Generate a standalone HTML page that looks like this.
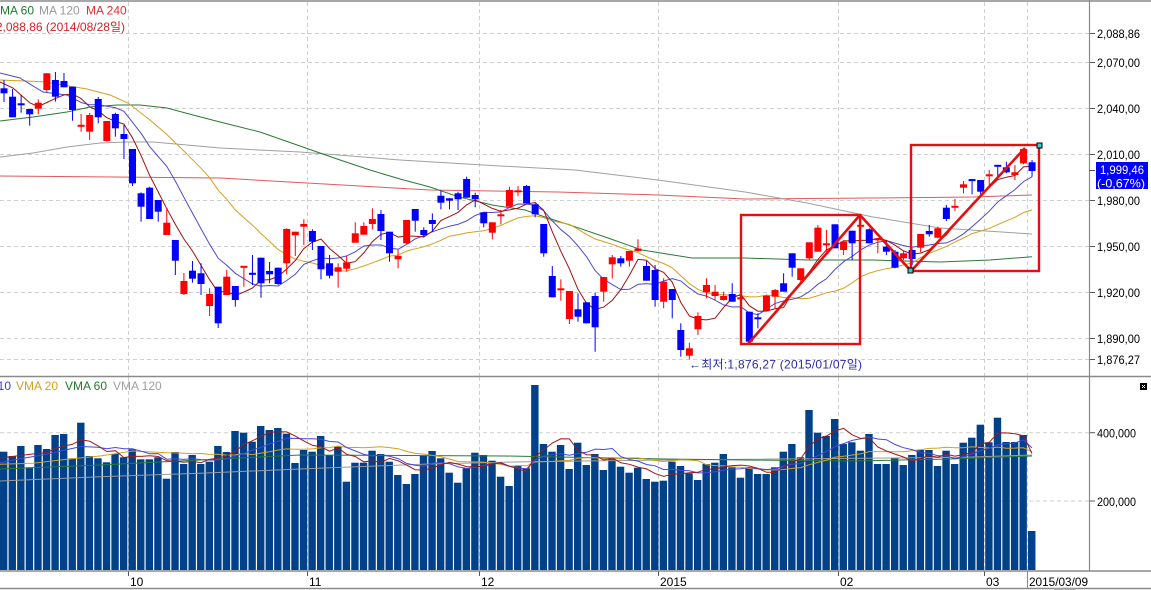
<!DOCTYPE html>
<html><head><meta charset="utf-8">
<style>
html,body{margin:0;padding:0;background:#fff;width:1151px;height:590px;overflow:hidden}
svg{display:block}
text{font-family:"Liberation Sans","Noto Sans CJK KR",sans-serif;font-size:12px}
</style></head>
<body>
<svg id="c" width="1151" height="590" xmlns="http://www.w3.org/2000/svg"></svg>
<script>
const C=[
['b',88.3,93.3,80,102],['b',96.7,117.3,89,117.3],['b',103.7,105,95,112.7],['b',109,114.3,109,125.7],
['r',102.7,108.7,99.3,114.3],['r',73.3,90,73,92],['b',80,96.7,72,101.7],['b',81,87.3,73,87.3],
['b',86.7,110,86.7,120.7],['r',125,126.5,114,131.7],['r',115,131.7,113,140],['b',99,117.3,97,123.3],
['r',121,141,121,141.7],['b',114,128.3,112.7,136.7],['b',134,139,125,159],['b',149,183.3,149,186],
['b',193.3,206.7,192.3,221.7],['b',187.7,219,186.7,219],['b',200,211.7,200,221.7],['r',222.7,235,208,235],
['b',240,260.7,240,275],['r',281,294,273,295],['b',270.7,278.7,261,282.7],['b',273.3,284,263.3,295],
['r',294,306,288.3,316],['b',286.7,323.3,286.7,328],['r',276.7,295,270,295],['b',286,300,286,306.7],
['r',266,267.5,266,286.7],['b',273,274.5,255,285],['b',257.7,283.3,257.7,297.7],['b',271,274.3,262,283.3],
['b',267.7,284,267.7,285],['r',229,263.3,228.3,274.3],['r',231.7,235.3,231.7,256],['r',224,226.7,219.3,245],
['b',231,241.7,229.3,250],['b',246,269.3,246,279.3],['b',263.3,275.7,255,278.3],['r',267.3,271.7,263.3,287.7],
['r',262.3,268.7,256,271.7],['r',233.3,242.7,222.3,242.7],['r',226,234.7,222.3,234.7],['r',219,224,208.3,229.3],
['b',214,231,210,240],['b',231.7,253.3,231.7,261.7],['r',256,259.3,250,268.3],['r',220,243.3,220,244],
['b',209,220.7,209,231.7],['b',230,235,227.3,236.7],['b',220,224,213.3,231.7],['b',195.7,202.7,190.7,209.3],
['b',198.3,200.7,198,209.3],['b',193.3,199.3,191.7,210],['b',179,197.7,176.7,197.7],['b',195,199.3,192.7,207.3],
['b',212.3,223.3,212.3,227.3],['r',222.3,232.7,222.3,239.3],['r',214.5,216,210,224.3],['r',190,206.7,186.7,206.7],
['r',190.5,192,186,196],['b',186,203.3,185,203.3],['b',204.3,214.3,203.3,217.3],['b',224,253.3,224,256.7],
['b',276,297.3,266,297.3],['r',288.5,290,279.3,300.7],['r',291,319,291,324],['b',309.3,316.7,293.3,321.7],
['b',302.3,323.3,302.3,323.3],['b',296,327.3,292.7,351.7],['r',277,291.7,277,301.7],['r',257.3,264.3,255,278.3],
['b',258.3,263.3,256,266.7],['r',251,260.7,251,266.7],['r',248.5,251,239.3,251.7],['b',266,280.7,261,280.7],
['b',270,300,265,306.7],['r',281.7,301.7,278.3,308.3],['b',289,300,289,318.3],['b',330,350,323.3,356.7],
['r',348.3,355.7,342.7,359.3],['r',316,329.3,312.3,335],['r',285,292.3,278.3,298.3],['r',291.7,296,285,300],
['r',296,300,291.7,300.7],['b',294,301.7,283.3,301.7],['r',297.5,299,296,301.7],['b',311.7,341.7,311.7,343.3],
['b',317.5,319,313.3,328.3],['r',295.7,310.7,295,310.7],['r',290,296.7,289,308.3],['b',283.3,291.7,273.3,291.7],
['b',253.3,267.7,253.3,276.7],['r',268.3,280,268.3,281.7],['r',242.3,258.3,242.3,260],['r',227.7,251.7,225,251.7],
['r',243.5,245,230,251.7],['b',224.3,248.3,224.3,248.3],['r',241.7,250,241.7,255],['b',230.7,243.3,230.7,260],
['r',225,226.5,216.7,231.7],['b',229.3,243.3,228.3,243.3],['r',238.5,240,238.3,253.3],['b',246.7,251.7,241,255],
['b',251.7,267.7,250,268.3],['r',253.3,258.3,251,260],['b',250,259,248.3,265],['r',234,247.7,234,252.3],
['b',231,234.3,225,236.7],['r',228.3,237.7,226.7,238.3],['b',207.7,219,205,221],['r',206,207.5,199,211],
['r',184.3,187.7,181,193.3],['b',179.3,180.8,179,194.3],['b',180,191.7,180,194.3],['r',174.5,176,170,185],
['b',165,166.5,165,176.7],['b',167.3,172.3,161.7,173.3],['r',172.3,175,165,180],['r',149,163.3,148.3,164.3],
['b',162.3,171,160,176.7]];
const V=[451.7,456,446,467.3,445,449,435,434,458.3,422.7,456,458.3,462.3,454,457.3,449.3,459.3,459.3,457.3,478.7,
452,464,455,464,461.7,446,452,431,432.7,441.7,426,430,428,433.7,463,450,451.7,436,455.3,446.7,
481.7,462.7,462.7,450.7,454,461.7,475,484,474,456,451,458.3,472.7,482.7,468.3,452.7,455,460.7,476.7,486,
466,468.3,385,444,451.7,445,469,442.7,465,454,470,458.3,466.7,472.7,467.7,479,481.7,480.7,461.7,466,
473.3,480,464,462.7,454,467.3,477.7,468.3,474,474,467.3,451.7,444,457.3,410,432.7,436,419,444,442.3,
450.7,434,464,464,458,465,455,450,450,466,450.7,464,442.7,437.7,424.7,442.3,417.7,442,442,435,531];
const SP=8.567;
const cx=i=>4+SP*i;
let s='';
const pl=(pts,col,w)=>`<polyline fill="none" stroke="${col}" stroke-width="${w||1}" points="${pts.map(p=>p[0].toFixed(1)+','+p[1].toFixed(1)).join(' ')}"/>`;
// horizontal gridlines price
const hy=[33,62,108,154,200,246,292,338,359];
const hl=['2,088,86','2,070,00','2,040,00','2,010,00','1,980,00','1,950,00','1,920,00','1,890,00','1,876,27'];
hy.forEach((y,k)=>{
 s+=`<line x1="0" y1="${y+.5}" x2="1089" y2="${y+.5}" stroke="#cfcfcf" stroke-dasharray="4,3"/>`;
 s+=`<line x1="1089" y1="${y+.5}" x2="1095" y2="${y+.5}" stroke="#555"/>`;
 s+=`<text x="1097" y="${y+5}" fill="#000" textLength="43" lengthAdjust="spacingAndGlyphs">${hl[k]}</text>`;
});
// volume gridlines
[[432.7,'400,000'],[501,'200,000']].forEach(([y,t])=>{
 s+=`<line x1="0" y1="${y}" x2="1089" y2="${y}" stroke="#cfcfcf" stroke-dasharray="4,3"/>`;
 s+=`<line x1="1089" y1="${y}" x2="1095" y2="${y}" stroke="#555"/>`;
 s+=`<text x="1097" y="${y+5}" fill="#000" textLength="39" lengthAdjust="spacingAndGlyphs">${t}</text>`;
});
// vertical gridlines
const vx=[128,307,479,658,838,984,1027];
vx.forEach(x=>{
 s+=`<line x1="${x+.5}" y1="2" x2="${x+.5}" y2="376" stroke="#cfcfcf" stroke-dasharray="4,3"/>`;
 s+=`<line x1="${x+.5}" y1="377" x2="${x+.5}" y2="571" stroke="#cfcfcf" stroke-dasharray="4,3"/>`;
 s+=`<line x1="${x+.5}" y1="571" x2="${x+.5}" y2="576" stroke="#555"/>`;
});
// volume bars
V.forEach((t,i)=>{ s+=`<rect x="${(SP*i).toFixed(2)}" y="${t}" width="7.4" height="${(570-t).toFixed(1)}" fill="#004189"/>`; });
// volume MAs
function maArr(arr,p,start){const out=[];for(let i=start;i<arr.length;i++){let a=0;for(let j=i-p+1;j<=i;j++)a+=arr[j];out.push([cx(i),a/p]);}return out;}
const vma5=[[0,458]].concat(maArr(V,5,4));
const vma10=[[0,462.7],[17,459.3],[43,455]].concat(maArr(V,10,9));
const vma20=[[0,464.3],[33,463.3],[67,459.3],[100,456],[133,451]].concat(maArr(V,20,19));
const vma60=[[0,469],[100,465],[200,460],[300,455],[505,456],[665,459],[745,460],[855,461],[950,459],[1032,456]];
const vma120=[[0,481],[100,476.7],[200,473.3],[300,469],[428,464],[528,461.7],[665,460],[965,457.3],[1032,455]];
s+=pl(vma120,'#9a9a9a');
s+=pl(vma60,'#2a7a36');
s+=pl(vma20,'#d4a020');
s+=pl(vma10,'#4646e0');
s+=pl(vma5,'#a01818');
// price MAs
const closes=C.map(c=>c[0]=='r'?c[1]:c[2]);
const ma5=[[0,82],[13,88],[21,95],[30,103]].concat(maArr(closes,5,4));
const ma10=[[0,73],[20,78],[43,92],[67,95]].concat(maArr(closes,10,9));
const ma20=[[0,80],[43,81.7],[87,89],[110,95],[128,103],[150,120]].concat(maArr(closes,20,19));
const ma60=[[0,121],[33,117],[67,112],[90,107],[117,105],[140,105],[167,108],[193,115],[220,122],[260,132],[300,146],[340,160],[370,170],[400,179],[430,187],[458,196.7],[492,205],[525,210],[548,218],[575,226.7],[608,238],[642,250],[692,258],[745,258],[807,260],[873,260],[940,262],[990,260],[1032,256.7]];
const ma120=[[0,157],[33,153],[67,147],[100,143],[127,142],[153,142],[187,145],[220,148],[300,152],[400,160],[500,166],[575,170],[658,180],[745,192],[807,203],[873,217],[940,228],[1032,234]];
const ma240=[[0,176],[220,178],[430,190],[558,192],[658,195],[745,199],[873,198],[973,197],[1032,195]];
s+=pl(ma240,'#e05a5a');
s+=pl(ma120,'#a0a0a0');
s+=pl(ma60,'#2a7a36');
s+=pl(ma20,'#d4a020');
s+=pl(ma10,'#4a4ad0');
s+=pl(ma5,'#a01010');
// candles
C.forEach((c,i)=>{
 const col=c[0]=='r'?'#ff0000':'#0000ff';
 const l=0.5+SP*i;
 let bt=c[1],bb=c[2]; if(bb-bt<2){const m=(bt+bb)/2;bt=m-1;bb=m+1;}
 s+=`<rect x="${(l+3).toFixed(2)}" y="${c[3]}" width="1" height="${(c[4]-c[3]).toFixed(1)}" fill="${col}"/>`;
 s+=`<rect x="${l.toFixed(2)}" y="${bt.toFixed(1)}" width="7" height="${(bb-bt).toFixed(1)}" fill="${col}"/>`;
});
// red boxes & lines
s+=`<rect x="741" y="215" width="119" height="129" fill="none" stroke="#e41010" stroke-width="2.4"/>`;
s+=`<rect x="911" y="145" width="128" height="126" fill="none" stroke="#e41010" stroke-width="2.4"/>`;
s+=`<line x1="748" y1="344" x2="860" y2="215" stroke="#e41010" stroke-width="2.6"/>`;
s+=`<line x1="860" y1="215" x2="911" y2="271" stroke="#e41010" stroke-width="2.6"/>`;
s+=`<line x1="912" y1="270" x2="1025" y2="148" stroke="#e41010" stroke-width="2.6"/>`;
s+=`<rect x="908" y="268" width="5" height="5" fill="#30d0d0" stroke="#000" stroke-width="1"/>`;
s+=`<rect x="1037" y="143" width="5" height="5" fill="#30d0d0" stroke="#000" stroke-width="1"/>`;
// annotation
s+=`<text x="689" y="368.5" fill="#2a2aa8" textLength="173">←최저:1,876,27 (2015/01/07일)</text>`;
// frame lines
s+=`<line x1="0" y1="1" x2="1151" y2="1" stroke="#8a8a8a" stroke-width="1.5"/>`;
s+=`<line x1="0" y1="376.5" x2="1151" y2="376.5" stroke="#8a8a8a" stroke-width="1.5"/>`;
s+=`<line x1="0" y1="571" x2="1151" y2="571" stroke="#8a8a8a" stroke-width="1.5"/>`;
s+=`<line x1="0" y1="588.5" x2="1151" y2="588.5" stroke="#8a8a8a" stroke-width="1.5"/>`;
s+=`<line x1="1089.5" y1="0" x2="1089.5" y2="571" stroke="#8a8a8a" stroke-width="1.2"/>`;
s+=`<line x1="1027.5" y1="571" x2="1027.5" y2="588" stroke="#8a8a8a"/>`;
s+=`<rect x="1054" y="588.5" width="22" height="2" fill="#b0b0b0"/>`;
// current price box
s+=`<line x1="1089" y1="170.5" x2="1095" y2="170.5" stroke="#555"/>`;
s+=`<rect x="1096" y="162" width="52" height="27" fill="#0000ff"/>`;
s+=`<text x="1100" y="174" fill="#fff" textLength="44" lengthAdjust="spacingAndGlyphs">1,999,46</text>`;
s+=`<text x="1097" y="187.5" fill="#fff" textLength="48" lengthAdjust="spacingAndGlyphs">(-0,67%)</text>`;
// icon
s+=`<rect x="1140" y="383" width="7" height="7" fill="#000"/><rect x="1142" y="385" width="1" height="1" fill="#fff"/><rect x="1144" y="385" width="1" height="1" fill="#fff"/><rect x="1143" y="386" width="1" height="1" fill="#fff"/><rect x="1142" y="387" width="1" height="1" fill="#fff"/><rect x="1144" y="387" width="1" height="1" fill="#fff"/>`;
// legends
s+=`<text x="0" y="14.5" fill="#1f7a2c">MA 60</text>`;
s+=`<text x="39" y="14.5" fill="#999">MA 120</text>`;
s+=`<text x="86" y="14.5" fill="#e03030">MA 240</text>`;
s+=`<text x="125" y="31" fill="#d42020" text-anchor="end">최고:2,088,86 (2014/08/28일)</text>`;
s+=`<text x="11" y="390" fill="#3a3ad8" text-anchor="end">VMA 10</text>`;
s+=`<text x="16" y="390" fill="#d4a020">VMA 20</text>`;
s+=`<text x="65" y="390" fill="#1f7a2c">VMA 60</text>`;
s+=`<text x="113" y="390" fill="#a0a0a0">VMA 120</text>`;
// x labels
[[130,'10'],[309,'11'],[481,'12'],[660,'2015'],[840,'02'],[986,'03']].forEach(([x,t])=>{s+=`<text x="${x}" y="586" fill="#000">${t}</text>`;});
s+=`<text x="1029" y="586" fill="#000" textLength="59" lengthAdjust="spacingAndGlyphs">2015/03/09</text>`;
document.getElementById('c').innerHTML=s;
</script>
</body></html>
